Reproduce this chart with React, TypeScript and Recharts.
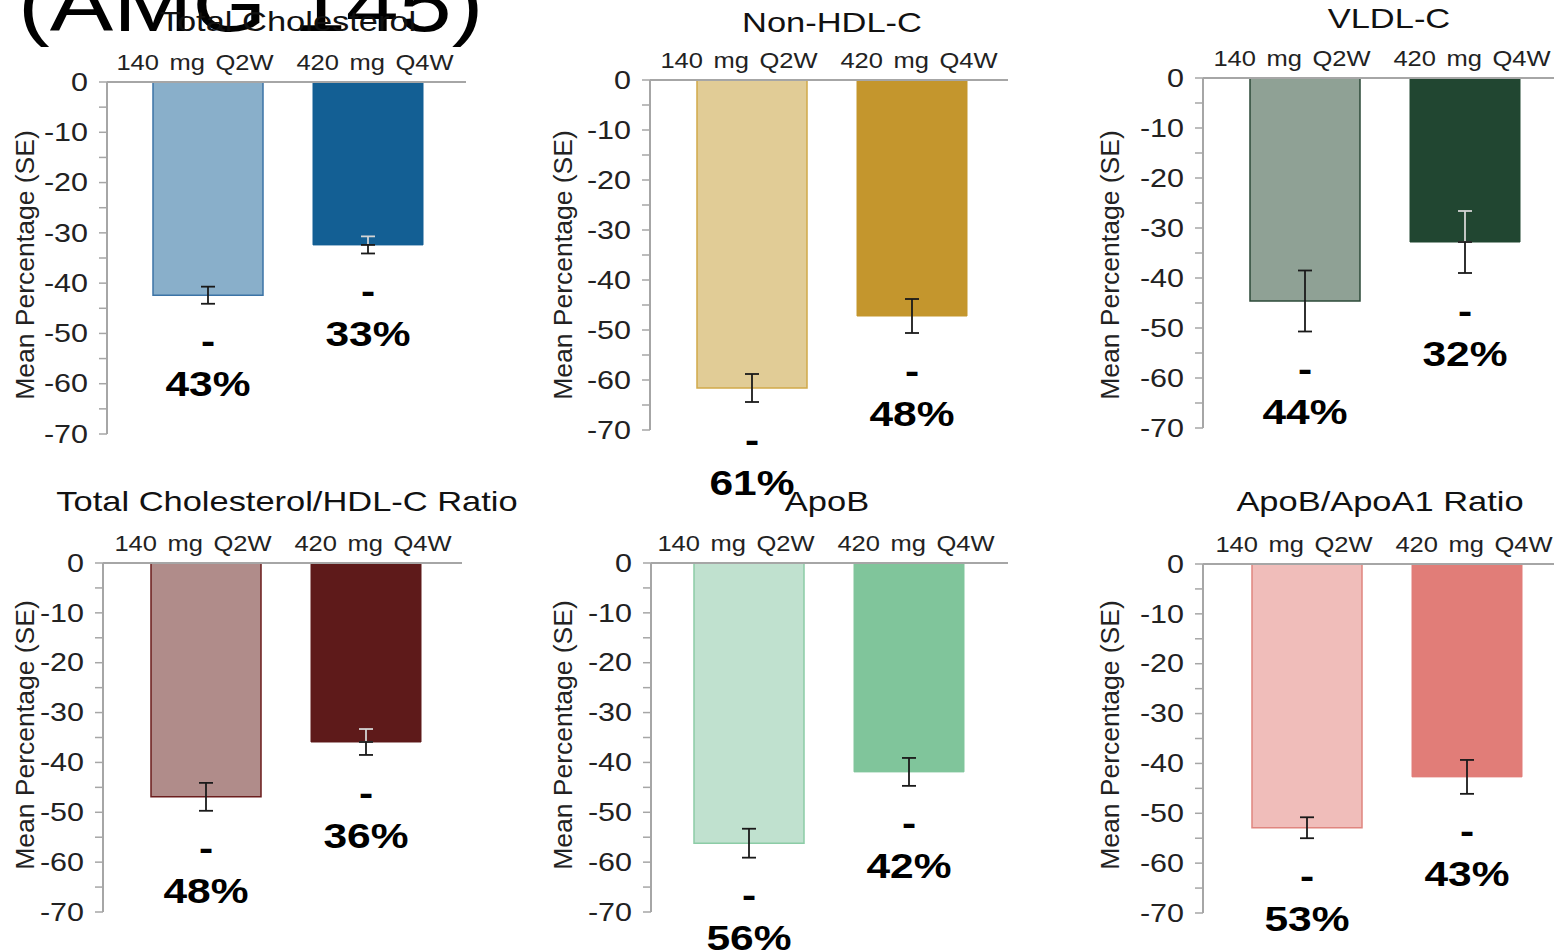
import React from 'react';
import { ComposedChart, Bar, Line, XAxis, YAxis, ErrorBar, LabelList } from 'recharts';

// ---------- data ----------
const categories = ['140 mg Q2W', '420 mg Q4W'];
const panelTitles = [
  'Total Cholesterol',
  'Non-HDL-C',
  'VLDL-C',
  'Total Cholesterol/HDL-C Ratio',
  'ApoB',
  'ApoB/ApoA1 Ratio',
];
const meanChange = [
  [-42.4, -32.4],
  [-61.6, -47.2],
  [-44.6, -32.8],
  [-46.9, -35.9],
  [-56.2, -41.9],
  [-52.9, -42.7],
];
const standardError = [
  [1.7, 1.7],
  [2.8, 3.4],
  [6.1, 6.2],
  [2.8, 2.6],
  [2.9, 2.8],
  [2.1, 3.4],
];
const pctLabels = [
  ['43%', '33%'],
  ['61%', '48%'],
  ['44%', '32%'],
  ['48%', '36%'],
  ['56%', '42%'],
  ['53%', '43%'],
];
const yTicks = [0, -5, -10, -15, -20, -25, -30, -35, -40, -45, -50, -55, -60, -65, -70];
const yAxisTitle = 'Mean Percentage (SE)';
const headline = '(AMG 145)';

// ---------- styles / layout ----------
const FONT = '"Liberation Sans", Arial, "DejaVu Sans", sans-serif';
const lightFill = ['#89afca', '#e1cc96', '#8fa195', '#b08c8a', '#c0e1cf', '#f0bdba'];
const lightStroke = ['#3c74a6', '#d1a94a', '#2c4a38', '#6b1d1d', '#8ccca6', '#e0857f'];
const darkFill = ['#135f94', '#c4962d', '#214631', '#5e1a1a', '#80c59b', '#e17d78'];
const innerLight = [true, false, true, true, false, false];

const layout = [
  { axisX: 107, plotRight: 466, zeroY: 82, bottomY: 434, padL: 21, titleX: 288, titleY: 22, ylx: 25, yly: 265 },
  { axisX: 650, plotRight: 1008, zeroY: 80, bottomY: 430, padL: 22, titleX: 832, titleY: 23, ylx: 563, yly: 265 },
  { axisX: 1203, plotRight: 1554, zeroY: 78, bottomY: 428, padL: 22, titleX: 1389, titleY: 19, ylx: 1110, yly: 265 },
  { axisX: 103, plotRight: 462, zeroY: 563, bottomY: 912, padL: 23, titleX: 287, titleY: 502, ylx: 25, yly: 735 },
  { axisX: 651, plotRight: 1008, zeroY: 563, bottomY: 912, padL: 18, titleX: 827, titleY: 502, ylx: 563, yly: 735 },
  { axisX: 1203, plotRight: 1554, zeroY: 564, bottomY: 913, padL: 24, titleX: 1380, titleY: 502, ylx: 1110, yly: 735 },
];
const catDx = [-13, 7];

const AXIS_COLOR = '#a6a6a6';

const YTick = (props: any) => {
  const { x, y, payload } = props;
  if (payload.value % 10 !== 0) return <g />;
  return (
    <text
      transform={`translate(${x} ${y}) scale(1.22 1)`}
      x={0}
      y={0}
      dy="0.35em"
      textAnchor="end"
      fill="#222"
      style={{ fontFamily: FONT, fontSize: 25 }}
    >
      {payload.value}
    </text>
  );
};

const CatTick = (props: any) => {
  const { x, y, payload, index } = props;
  return (
    <text
      transform={`translate(${x + catDx[index]} ${y}) scale(1.16 1)`}
      x={0}
      y={0}
      textAnchor="middle"
      fill="#222"
      style={{ fontFamily: FONT, fontSize: 22, wordSpacing: 3 }}
    >
      {payload.value}
    </text>
  );
};

const PctLabel = (props: any) => {
  const x = props.x ?? props.viewBox?.x;
  const y = props.y ?? props.viewBox?.y;
  const { value } = props;
  if (x == null || y == null) return null;
  const st = { fontFamily: FONT, fontSize: 36, fontWeight: 700 } as any;
  return (
    <g>
      <text
        transform={`translate(${x} ${y + 37}) scale(1.18 1)`}
        x={0}
        y={0}
        dy="0.35em"
        textAnchor="middle"
        fill="#000"
        style={st}
      >
        -
      </text>
      <text
        transform={`translate(${x} ${y + 80}) scale(1.18 1)`}
        x={0}
        y={0}
        dy="0.35em"
        textAnchor="middle"
        fill="#000"
        style={st}
      >
        {value}
      </text>
    </g>
  );
};

const Panel = ({ p }: { p: number }) => {
  const L = layout[p];
  const plotW = L.plotRight - L.axisX;
  const plotH = L.bottomY - L.zeroY;
  const YW = 100;
  const XH = 80;
  const MB = 110;
  const MR = 10;
  const width = YW + plotW + MR;
  const height = XH + plotH + MB;
  const padR = plotW - L.padL - 320;

  const rows = categories.map((c, i) => {
    const v = meanChange[p][i];
    const se = standardError[p][i];
    return {
      cat: c,
      a: i === 0 ? v : null,
      b: i === 1 ? v : null,
      ea: i === 0 ? se : null,
      ebIn: i === 1 ? [0, se] : null,
      ebOut: i === 1 ? [se, 0] : null,
      eb: i === 1 ? se : null,
      low: v - se,
      pct: pctLabels[p][i],
    };
  });

  return (
    <div style={{ position: 'absolute', left: L.axisX - YW, top: L.zeroY - XH, width, height }}>
      <ComposedChart
        width={width}
        height={height}
        data={rows}
        margin={{ top: 0, right: MR, bottom: MB, left: 0 }}
      >
        <XAxis
          dataKey="cat"
          orientation="top"
          height={XH}
          axisLine={{ stroke: AXIS_COLOR, strokeWidth: 2 }}
          tickLine={false}
          tickSize={0}
          tickMargin={12}
          tick={<CatTick />}
          padding={{ left: L.padL, right: padR }}
          interval={0}
        />
        <YAxis
          type="number"
          domain={[-70, 0]}
          ticks={yTicks}
          width={YW}
          interval={0}
          axisLine={{ stroke: AXIS_COLOR, strokeWidth: 2 }}
          tickLine={{ stroke: AXIS_COLOR, strokeWidth: 1.5 }}
          tickSize={8}
          tickMargin={11}
          tick={<YTick />}
          allowDataOverflow
        />
        <Bar
          dataKey="a"
          stackId="s"
          barSize={110}
          fill={lightFill[p]}
          stroke={lightStroke[p]}
          strokeWidth={1.5}
          isAnimationActive={false}
        >
          <ErrorBar dataKey="ea" direction="y" width={7} stroke="#1a1a1a" strokeWidth={1.8} />
        </Bar>
        <Bar
          dataKey="b"
          stackId="s"
          barSize={110}
          fill={darkFill[p]}
          stroke={darkFill[p]}
          strokeWidth={1}
          isAnimationActive={false}
        >
          {innerLight[p] ? (
            <ErrorBar dataKey="ebIn" direction="y" width={7} stroke="#d4d4d4" strokeWidth={1.8} />
          ) : (
            <ErrorBar dataKey="eb" direction="y" width={7} stroke="#1a1a1a" strokeWidth={1.8} />
          )}
          {innerLight[p] ? (
            <ErrorBar dataKey="ebOut" direction="y" width={7} stroke="#1a1a1a" strokeWidth={1.8} />
          ) : null}
        </Bar>
        <Line
          dataKey="low"
          stroke="none"
          dot={false}
          activeDot={false}
          isAnimationActive={false}
          legendType="none"
        >
          <LabelList dataKey="pct" content={<PctLabel />} />
        </Line>
      </ComposedChart>
    </div>
  );
};

const centered = (x: number, y: number, extra: any = {}) =>
  ({
    position: 'absolute',
    left: x,
    top: y,
    transform: 'translate(-50%, -50%)',
    whiteSpace: 'nowrap',
    lineHeight: 1,
    fontFamily: FONT,
    color: '#111',
    ...extra,
  } as React.CSSProperties);

export default function App() {
  return (
    <div
      style={{
        position: 'fixed',
        left: 0,
        top: 0,
        width: 1554,
        height: 951,
        overflow: 'hidden',
        background: '#fff',
        fontFamily: FONT,
      }}
    >
      <div
        style={{
          position: 'absolute',
          left: 18,
          top: -35,
          fontSize: 78,
          lineHeight: 1,
          whiteSpace: 'nowrap',
          transform: 'scaleX(1.22)',
          transformOrigin: 'left top',
          color: '#000',
        }}
      >
        {headline}
      </div>
      {layout.map((_, p) => (
        <Panel key={p} p={p} />
      ))}
      {layout.map((L, p) => (
        <div
          key={'t' + p}
          style={centered(L.titleX, L.titleY, {
            fontSize: 28,
            transform: 'translate(-50%, -50%) scaleX(1.23)',
          })}
        >
          {panelTitles[p]}
        </div>
      ))}
      {layout.map((L, p) => (
        <div
          key={'y' + p}
          style={centered(L.ylx, L.yly, {
            fontSize: 25,
            color: '#222',
            transform: 'translate(-50%, -50%) rotate(-90deg) scaleX(1.06)',
          })}
        >
          {yAxisTitle}
        </div>
      ))}
    </div>
  );
}
